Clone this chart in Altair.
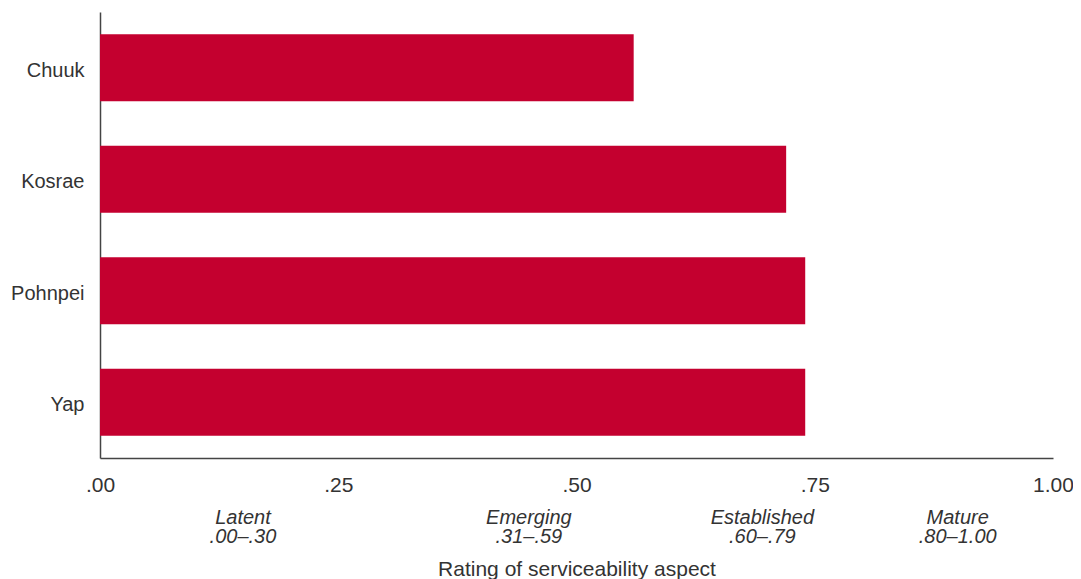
import altair as alt
import pandas as pd

# Data
regions = ["Chuuk", "Kosrae", "Pohnpei", "Yap"]
ratings = [0.56, 0.72, 0.74, 0.74]

level_names = ["Latent", "Emerging", "Established", "Mature"]
level_ranges = [".00–.30", ".31–.59", ".60–.79", ".80–1.00"]
level_low = [0.00, 0.31, 0.60, 0.80]
level_high = [0.30, 0.59, 0.79, 1.00]

tick_values = [0.0, 0.25, 0.5, 0.75, 1.0]

FONT = "Liberation Sans"
TEXT = "#333333"
BAR = "#C4002F"
AXIS = "#444444"

bars_df = pd.DataFrame({"region": regions, "rating": ratings})
levels_df = pd.DataFrame({
    "name": level_names,
    "range": level_ranges,
    "low": level_low,
    "high": level_high,
})

x_scale = alt.Scale(domain=[0, 1], nice=False, zero=True)

bars = alt.Chart(bars_df).mark_bar(color=BAR).encode(
    x=alt.X(
        "rating:Q",
        scale=x_scale,
        axis=alt.Axis(
            values=tick_values,
            labelExpr="datum.value >= 1 ? format(datum.value, '.2f') : substring(format(datum.value, '.2f'), 1)",
            ticks=False,
            grid=False,
            domainColor=AXIS,
            domainWidth=1.5,
            labelFont=FONT,
            labelFontSize=21,
            labelColor=TEXT,
            labelPadding=16,
            labelFlush=False,
            title="Rating of serviceability aspect",
            titleFont=FONT,
            titleFontSize=21,
            titleFontWeight="normal",
            titleColor=TEXT,
            titlePadding=63,
        ),
    ),
    y=alt.Y(
        "region:N",
        sort=regions,
        scale=alt.Scale(paddingInner=0.4, paddingOuter=0.2),
        axis=alt.Axis(
            ticks=False,
            grid=False,
            domainColor=AXIS,
            domainWidth=1.5,
            labelFont=FONT,
            labelFontSize=20,
            labelColor=TEXT,
            labelPadding=16,
            labelOffset=3,
            title=None,
        ),
    ),
)

base_levels = alt.Chart(levels_df).transform_calculate(
    mid="(datum.low + datum.high) / 2"
)

level_name_text = base_levels.mark_text(
    font=FONT, fontSize=20, fontStyle="italic", color=TEXT,
    align="center", baseline="alphabetic",
).encode(
    x=alt.X("mid:Q", scale=x_scale),
    y=alt.value(512),
    text="name:N",
)

level_range_text = base_levels.mark_text(
    font=FONT, fontSize=20, fontStyle="italic", color=TEXT,
    align="center", baseline="alphabetic",
).encode(
    x=alt.X("mid:Q", scale=x_scale),
    y=alt.value(531),
    text="range:N",
)

chart = alt.layer(bars, level_name_text, level_range_text).properties(
    width=953,
    height=446,
    autosize=alt.AutoSizeParams(type="none"),
    padding={"left": 92, "top": 4, "right": 20, "bottom": 126},
).configure_view(stroke=None)

chart.save("out.html", embed_options={"renderer": "svg", "actions": False})
